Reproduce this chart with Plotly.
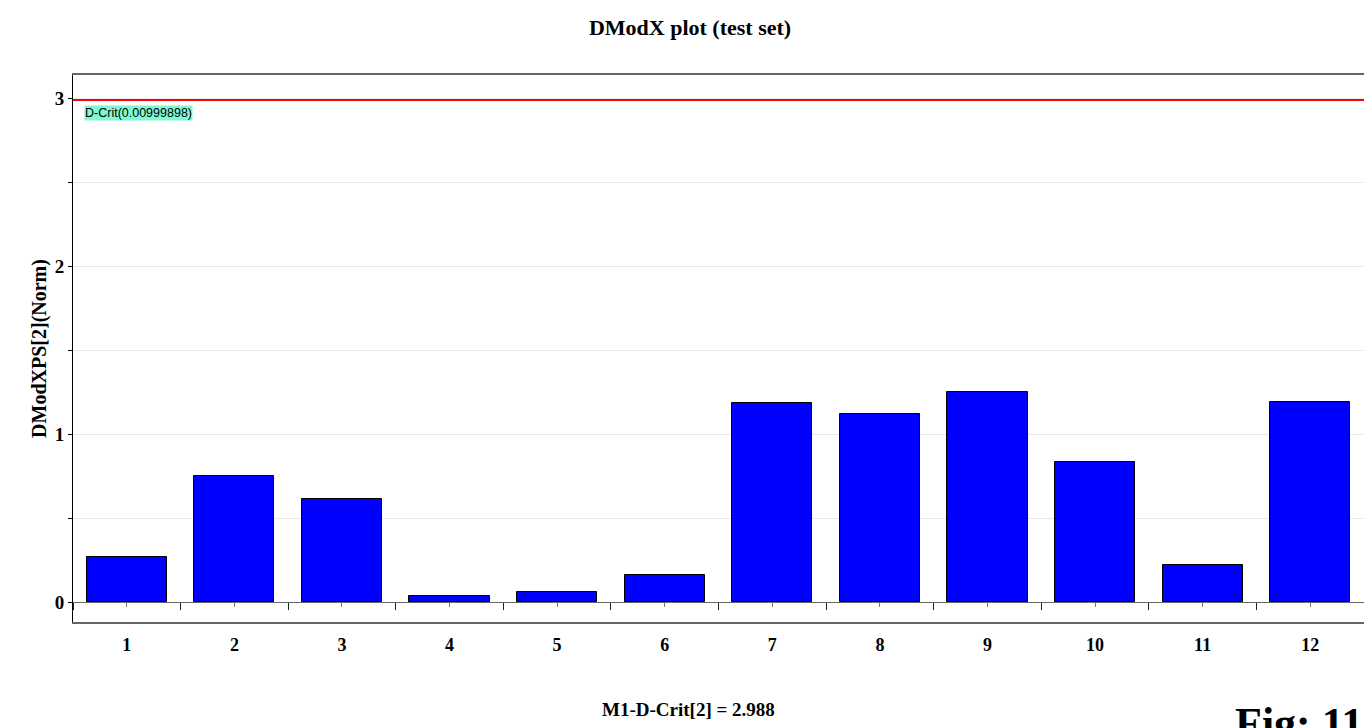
import plotly.graph_objects as go

# Observations in the test set and their normalised DModX distances
observations = ["1", "2", "3", "4", "5", "6", "7", "8", "9", "10", "11", "12"]
dmodx_norm = [0.268, 0.75, 0.613, 0.034, 0.06, 0.159, 1.185, 1.121, 1.25, 0.832, 0.22, 1.19]

# Critical distance at the 0.01 significance level
d_crit = 2.988
d_crit_level = "0.00999898"

y_tickvals = [0, 0.5, 1, 1.5, 2, 2.5, 3]
y_ticktext = ["0", "", "1", "", "2", "", "3"]

x_pos = list(range(1, len(observations) + 1))
x_range = [0.5, len(observations) + 0.5]
y_range = [-0.119, 3.137]
boundaries = [p - 0.5 for p in x_pos] + [x_pos[-1] + 0.5]

serif = "Liberation Serif, Times New Roman, serif"

fig = go.Figure()

fig.add_trace(go.Bar(
    x=x_pos,
    y=dmodx_norm,
    width=0.745,
    marker=dict(color="#0000ff", line=dict(color="#000000", width=1)),
    showlegend=False,
    hoverinfo="x+y",
))

# Helper trace that carries the axis drawn along y = 0
fig.add_trace(go.Scatter(x=[], y=[], xaxis="x2", yaxis="y", showlegend=False))

fig.add_shape(
    type="line", xref="paper", x0=0, x1=1, yref="y", y0=d_crit, y1=d_crit,
    line=dict(color="#ff0000", width=2), layer="above",
)

fig.add_annotation(
    xref="paper", x=0.0085, yref="y", y=d_crit,
    xanchor="left", yanchor="top", yshift=-5,
    text=f"D-Crit({d_crit_level})", showarrow=False,
    font=dict(family="Liberation Sans, Arial, sans-serif", size=12.5, color="#000000"),
    bgcolor="#80f8d4", borderpad=0,
)

fig.add_annotation(
    xref="paper", x=(688 - 73) / 1291, yref="paper", y=(622 - 709) / 547,
    xanchor="center", yanchor="middle",
    text=f"<b>M1-D-Crit[2] = {d_crit}</b>", showarrow=False,
    font=dict(family=serif, size=19, color="#000000"),
)

fig.add_annotation(
    xref="paper", x=(1233 - 73) / 1291, yref="paper", y=(622 - 697) / 547,
    xanchor="left", yanchor="top",
    text="<b>Fig: 11</b>", showarrow=False,
    font=dict(family=serif, size=44, color="#000000"),
)

fig.update_layout(
    width=1364,
    height=728,
    margin=dict(l=73, r=0, t=75, b=106),
    paper_bgcolor="#ffffff",
    plot_bgcolor="#ffffff",
    title=dict(
        text="<b>DModX plot (test set)</b>",
        x=690 / 1364, xanchor="center",
        y=1 - 27 / 728, yanchor="middle",
        font=dict(family=serif, size=22, color="#000000"),
    ),
    bargap=0,
    xaxis=dict(
        range=x_range,
        tickmode="array",
        tickvals=x_pos,
        ticktext=[f"<b>{o}</b>" for o in observations],
        ticks="outside", ticklen=5, tickcolor="rgba(0,0,0,0)",
        tickfont=dict(family=serif, size=18, color="#000000"),
        showline=True, linecolor="#666666", linewidth=2, mirror=True,
        showgrid=False, zeroline=False, fixedrange=True,
    ),
    xaxis2=dict(
        range=x_range,
        overlaying="x",
        anchor="free",
        position=(0 - y_range[0]) / (y_range[1] - y_range[0]),
        tickmode="array",
        tickvals=x_pos,
        ticks="outside", ticklen=4, tickcolor="#777777", tickwidth=1,
        minor=dict(tickmode="array", tickvals=boundaries, ticks="outside",
                   ticklen=7, tickcolor="#222222", tickwidth=1, showgrid=False),
        showticklabels=False,
        showline=True, linecolor="#666666", linewidth=1,
        showgrid=False, zeroline=False,
    ),
    yaxis=dict(
        range=y_range,
        tickmode="array",
        tickvals=y_tickvals,
        ticktext=[f"<b>{t}</b>" if t else "" for t in y_ticktext],
        ticks="outside", ticklen=4, tickcolor="#000000",
        tickfont=dict(family=serif, size=19, color="#000000"),
        showline=True, linecolor="#000000", linewidth=1,
        showgrid=True, gridcolor="#e8e8e8", gridwidth=1,
        zeroline=False,
        title=dict(text="<b>DModXPS[2](Norm)</b>", standoff=2,
                   font=dict(family=serif, size=20, color="#000000")),
    ),
)

fig.write_html("out.html")
